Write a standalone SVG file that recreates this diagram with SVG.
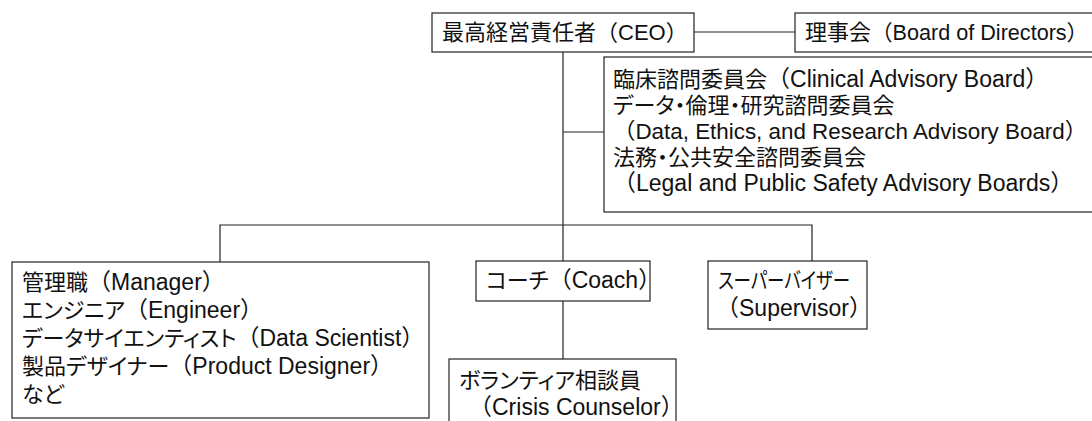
<svg xmlns="http://www.w3.org/2000/svg" width="1092" height="421" viewBox="0 0 1092 421">
<style>
.box{fill:#fff;stroke:#222;stroke-width:1.2}
.ln{fill:none;stroke:#222;stroke-width:1.2}
text{font-family:"Liberation Sans","Noto Sans CJK JP",sans-serif;font-size:22px;fill:#111;font-feature-settings:"palt"}
.n{font-feature-settings:normal;font-size:23px}
.m{font-size:22.4px}
</style>
<rect width="1092" height="421" fill="#fff"/>
<g id="connectors">
<path class="ln" d="M694 32H795"/>
<path class="ln" d="M563 52V225"/>
<path class="ln" d="M563 132H604"/>
<path class="ln" d="M220 262V225H812V261"/>
<path class="ln" d="M563 225V261"/>
<path class="ln" d="M563 301V359"/>
</g>
<g id="ceo">
<rect class="box" x="432" y="13" width="262" height="39"/>
<text x="442" y="40">最高経営責任者<tspan class="n" style="font-size:22px">（CEO）</tspan></text>
</g>
<g id="board">
<rect class="box" x="795" y="13" width="300" height="39"/>
<text x="805" y="40">理事会<tspan class="n" style="font-size:21.6px">（Board of Directors）</tspan></text>
</g>
<g id="advisory">
<rect class="box" x="604" y="57" width="495" height="155"/>
<text x="613" y="87">臨床諮問委員会<tspan class="n">（Clinical Advisory Board）</tspan></text>
<text x="613" y="113">データ・倫理・研究諮問委員会</text>
<text x="613" y="139" class="n m">（Data, Ethics, and Research Advisory Board）</text>
<text x="613" y="165">法務・公共安全諮問委員会</text>
<text x="613" y="191" class="n">（Legal and Public Safety Advisory Boards）</text>
</g>
<g id="staff">
<rect class="box" x="12" y="262" width="417" height="156"/>
<text x="22" y="290">管理職<tspan class="n">（Manager）</tspan></text>
<text x="22" y="318">エンジニア<tspan class="n">（Engineer）</tspan></text>
<text x="22" y="346">データサイエンティスト<tspan class="n">（Data Scientist）</tspan></text>
<text x="22" y="374">製品デザイナー<tspan class="n">（Product Designer）</tspan></text>
<text x="22" y="402">など</text>
</g>
<g id="coach">
<rect class="box" x="476" y="261" width="174" height="40"/>
<text x="486" y="288">コーチ<tspan class="n">（Coach）</tspan></text>
</g>
<g id="supervisor">
<rect class="box" x="708" y="261" width="159" height="68"/>
<text x="718" y="288" textLength="132" lengthAdjust="spacingAndGlyphs">スーパーバイザー</text>
<text x="716" y="316" class="n">（Supervisor）</text>
</g>
<g id="counselor">
<rect class="box" x="449" y="359" width="227" height="80"/>
<text x="459" y="388">ボランティア相談員</text>
<text x="469" y="415" class="n">（Crisis Counselor）</text>
</g>
</svg>
